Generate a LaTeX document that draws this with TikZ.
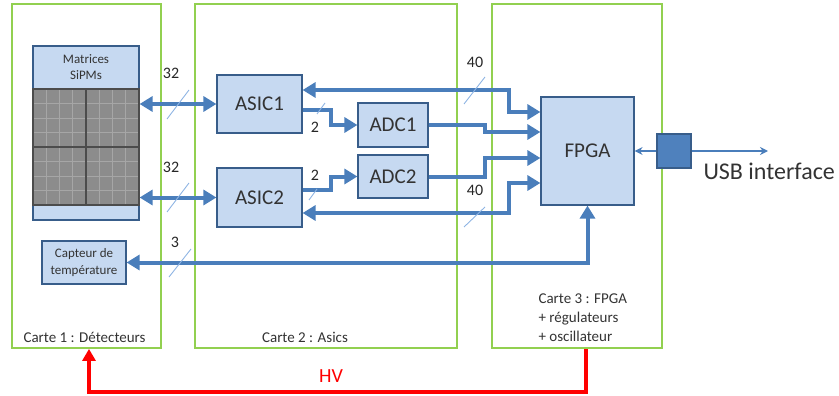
\documentclass[tikz,border=0pt]{standalone}
\usepackage{fontspec}
\setmainfont{Carlito}
\usepackage{tikz}
\usetikzlibrary{arrows.meta, positioning}
\usepackage{xcolor}
\definecolor{boxfill}{HTML}{C6D9F1}
\definecolor{boxline}{HTML}{385D8A}
\definecolor{busblue}{HTML}{4A7EBB}
\definecolor{cardgreen}{HTML}{92D050}
\definecolor{tickblue}{HTML}{8EB4E3}
\definecolor{usbfill}{HTML}{4F81BD}
\definecolor{gridgray}{HTML}{8C8C8C}

\begin{document}
\begin{tikzpicture}[
    x=1pt, y=-1pt,
    card/.style={
        draw=cardgreen,
        line width=1.8pt,
        minimum width=#1,
        minimum height=344pt,
        inner sep=0pt
    },
    block/.style={
        draw=boxline,
        fill=boxfill,
        line width=1.2pt,
        inner sep=0pt,
        align=center,
        font=\fontsize{21}{25}\selectfont,
        text=black!80
    },
    small/.style={
        align=center,
        font=\fontsize{13}{16.5}\selectfont,
        text=black!80
    },
    num/.style={
        font=\fontsize{16}{18}\selectfont,
        text=black!85
    },
    cardlbl/.style={
        align=left,
        font=\fontsize{15}{19}\selectfont,
        text=black!80
    },
    bus/.style={
        ->,
        >={Triangle[length=13pt,width=15pt]},
        draw=busblue,
        line width=4pt
    },
    hv/.style={
        ->,
        >={Triangle[length=12pt,width=13pt]},
        draw=red,
        line width=4pt
    },
    usbline/.style={
        <->,
        >={Stealth[length=8pt,width=8pt]},
        draw=busblue,
        line width=1.4pt
    },
    tick/.style={
        draw=tickblue,
        line width=0.9pt
    }
]
\useasboundingbox (0,0) rectangle (839,396);

% Cards
\node (carteA) [card=149pt] at (86.5,176) {};
\node (carteB) [card=262pt] at (326,176) {};
\node (carteC) [card=170pt] at (577,176) {};
\node (lblA) [cardlbl, anchor=west] at (20,337) {Carte 1 : Détecteurs};
\node (lblB) [cardlbl] at (305,337) {Carte 2 : Asics};
\node (lblC) [cardlbl, anchor=west] at (535,318) {Carte 3 : FPGA\\+ régulateurs\\+ oscillateur};

% SiPM matrices
\node (sipm) [block, minimum width=106pt, minimum height=174pt] at (86,133) {};
\fill[gridgray] (33,89) rectangle (139,205);
\foreach \i in {1,...,7} {
    \draw[black!35, line width=0.6pt] ({33+\i*13.25},89) -- ++(0,116);
    \draw[black!35, line width=0.6pt] (33,{89+\i*14.5}) -- ++(106,0);
}
\draw[black!70, line width=1.2pt] (86,89) -- (86,205) (33,147) -- (139,147);
\draw[black!70, line width=1.2pt] (33,89) rectangle (139,205);
\node (sipmlbl) [small] at (86,67) {Matrices\\SiPMs};

% Nodes
\node (asicA) [block, minimum width=85pt, minimum height=58pt] at (259.5,104) {ASIC1};
\node (asicB) [block, minimum width=85pt, minimum height=59pt] at (259.5,197.5) {ASIC2};
\node (adcA) [block, minimum width=70pt, minimum height=44pt] at (393,125) {ADC1};
\node (adcB) [block, minimum width=70pt, minimum height=43pt] at (393,176.5) {ADC2};
\node (fpga) [block, minimum width=93pt, minimum height=108pt] at (587.5,151) {FPGA};
\node (capteur) [block, small, minimum width=84pt, minimum height=43pt] at (84,262.5) {Capteur de\\température};
\coordinate (usbend) at (768,151);

% Paths
\draw [bus, <->] (sipm.east |- asicA.west) -- (asicA.west);
\draw [bus, <->] (sipm.east |- asicB.west) -- (asicB.west);
\draw [bus] (asicA.east |- 0,110) -- ++(28,0) |- (adcA.west);
\draw [bus] (asicB.east |- 0,190) -- ++(28,0) |- (adcB.west);
\draw [bus, <->] (fpga.west |- 0,112) -| (509,90) -- (asicA.east |- 0,90);
\draw [bus] (adcA.east) -| (485,132) -- (fpga.west |- 0,132);
\draw [bus] (adcB.east) -| (485,158) -- (fpga.west |- 0,158);
\draw [bus, <->] (fpga.west |- 0,183) -| (509,213) -- (asicB.east |- 0,213);
\draw [bus, <->] (fpga.south) |- (capteur.east);
\draw [hv] (carteC.south -| 586,0) |- (89,392) -- (carteA.south -| 89,0);
\draw [usbline] (fpga.east) -- (usbend);
\node (usb) [draw=boxline, fill=usbfill, line width=1.2pt, minimum size=34pt, inner sep=0pt] at (674,151) {};

% Bus widths
\draw [tick] (167,119) -- (189,90);
\draw [tick] (167,212) -- (189,183);
\draw [tick] (169,277) -- (191,249);
\draw [tick] (464,104) -- (485,77);
\draw [tick] (464,227) -- (485,207);
\draw [tick] (317,114) -- (325,103);
\draw [tick] (309,200) -- (317,189);
\node (wA) [num] at (171,73) {32};
\node (wB) [num] at (171,167) {32};
\node (wC) [num] at (175,242) {3};
\node (wD) [num] at (475,62) {40};
\node (wE) [num] at (475,190) {40};
\node (wF) [num] at (315,127) {2};
\node (wG) [num] at (315,175) {2};

\node (usblbl) [anchor=west, font=\fontsize{24}{28}\selectfont, text=black!80] at (700,171) {USB interface};
\node (hvlbl) [font=\fontsize{20}{24}\selectfont, text=red] at (331,376) {HV};

\end{tikzpicture}
\end{document}
